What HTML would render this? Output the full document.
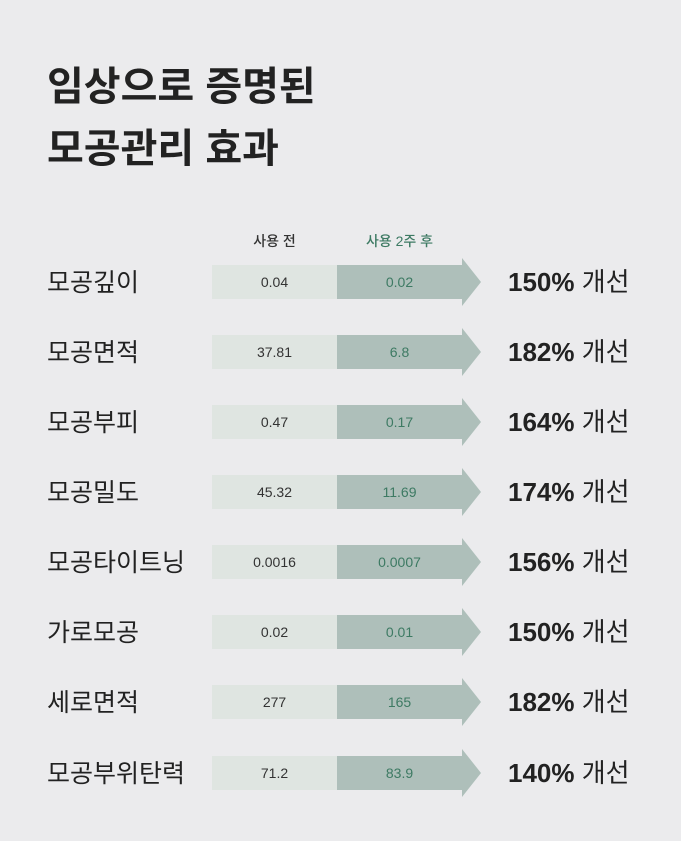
<!DOCTYPE html>
<html><head><meta charset="utf-8"><style>
body{margin:0;width:681px;height:841px;background:#ebebed;font-family:"Liberation Sans","Noto Sans CJK KR",sans-serif;position:relative;overflow:hidden;color:#222}
.t{position:absolute;left:47px;font-size:40px;font-weight:700;line-height:1;color:#222}
.h{position:absolute;top:231px;font-size:14px;font-weight:500;width:125px;text-align:center}
.row{position:absolute;left:0;width:681px;height:48px}
.lab{position:absolute;left:47px;top:10px;font-size:25px;line-height:30px}
.a{position:absolute;left:212px;top:7px;width:125px;height:34px;background:#dfe5e1;font-size:14px;line-height:34px;text-align:center;color:#333}
.b{position:absolute;left:337px;top:7px;width:125px;height:34px;background:#aebfba;font-size:14px;line-height:34px;text-align:center;color:#3d7a63}
.tip{position:absolute;left:462px;top:0;width:0;height:0;border-top:24px solid transparent;border-bottom:24px solid transparent;border-left:19px solid #aebfba}
.r{position:absolute;left:508px;top:8px;font-size:26px;line-height:32px;color:#222}
.r b{font-weight:700}
</style></head><body>
<div class="t" style="top:67px">임상으로 증명된</div>
<div class="t" style="top:129px">모공관리 효과</div>
<div class="h" style="left:212px;color:#333">사용 전</div>
<div class="h" style="left:337px;color:#3d7a63">사용 2주 후</div>

<div class="row" style="top:258px"><div class="lab">모공깊이</div><div class="a">0.04</div><div class="b">0.02</div><div class="tip"></div><div class="r"><b>150%</b> 개선</div></div>
<div class="row" style="top:328px"><div class="lab">모공면적</div><div class="a">37.81</div><div class="b">6.8</div><div class="tip"></div><div class="r"><b>182%</b> 개선</div></div>
<div class="row" style="top:398px"><div class="lab">모공부피</div><div class="a">0.47</div><div class="b">0.17</div><div class="tip"></div><div class="r"><b>164%</b> 개선</div></div>
<div class="row" style="top:468px"><div class="lab">모공밀도</div><div class="a">45.32</div><div class="b">11.69</div><div class="tip"></div><div class="r"><b>174%</b> 개선</div></div>
<div class="row" style="top:538px"><div class="lab">모공타이트닝</div><div class="a">0.0016</div><div class="b">0.0007</div><div class="tip"></div><div class="r"><b>156%</b> 개선</div></div>
<div class="row" style="top:608px"><div class="lab">가로모공</div><div class="a">0.02</div><div class="b">0.01</div><div class="tip"></div><div class="r"><b>150%</b> 개선</div></div>
<div class="row" style="top:678px"><div class="lab">세로면적</div><div class="a">277</div><div class="b">165</div><div class="tip"></div><div class="r"><b>182%</b> 개선</div></div>
<div class="row" style="top:749px"><div class="lab">모공부위탄력</div><div class="a">71.2</div><div class="b">83.9</div><div class="tip"></div><div class="r"><b>140%</b> 개선</div></div>
</body></html>
